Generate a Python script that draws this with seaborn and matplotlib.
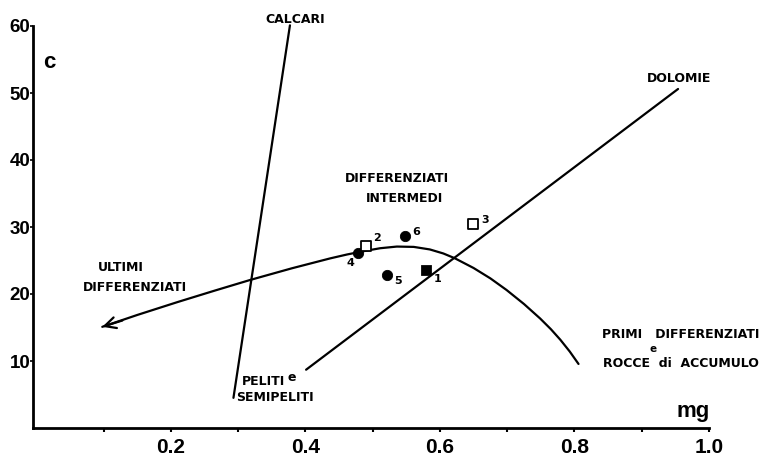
import matplotlib
matplotlib.use("Agg")
import matplotlib.pyplot as plt
import seaborn as sns
import pandas as pd

# ---- data ----
point_ids = ["1", "2", "3", "4", "5", "6"]
point_mg = [0.580, 0.490, 0.649, 0.478, 0.522, 0.548]
point_c = [23.6, 27.2, 30.4, 26.1, 22.8, 28.7]
point_kind = ["filled_square", "open_square", "open_square", "circle", "circle", "circle"]

curve_mg = [0.098, 0.150, 0.210, 0.265, 0.318, 0.380, 0.437, 0.462, 0.486, 0.511,
            0.536, 0.561, 0.585, 0.605, 0.622, 0.650, 0.675, 0.699, 0.725, 0.749,
            0.765, 0.779, 0.793, 0.806]
curve_c = [15.1, 16.87, 18.8, 20.5, 22.1, 23.84, 25.32, 25.90, 26.38, 26.83,
           27.08, 27.03, 26.65, 26.05, 25.34, 23.88, 22.33, 20.6, 18.5, 16.34,
           14.74, 13.17, 11.41, 9.56]

calcari_mg = [0.293, 0.377]
calcari_c = [4.5, 60.1]
dolomie_mg = [0.401, 0.954]
dolomie_c = [8.7, 50.6]

x_major = [0.2, 0.4, 0.6, 0.8, 1.0]
x_major_labels = ["0.2", "0.4", "0.6", "0.8", "1.0"]
x_minor = [0.1, 0.3, 0.5, 0.7, 0.9]
y_ticks = [10, 20, 30, 40, 50, 60]

sns.set_theme(style="ticks")
plt.rcParams["font.family"] = ["DejaVu Sans"]
plt.rcParams["text.color"] = "black"

fig = plt.figure(figsize=(7.72, 4.59), dpi=100)
ax = fig.add_axes([33 / 772, 1 - 428 / 459, (709 - 33) / 772, (428 - 26) / 459])

lw = 1.6
curve_df = pd.DataFrame({"mg": curve_mg, "c": curve_c})
sns.lineplot(data=curve_df, x="mg", y="c", sort=False, estimator=None,
             color="black", lw=lw, ax=ax, solid_joinstyle="round")
lines_df = pd.DataFrame({
    "mg": calcari_mg + dolomie_mg,
    "c": calcari_c + dolomie_c,
    "line": ["CALCARI"] * 2 + ["DOLOMIE"] * 2,
})
sns.lineplot(data=lines_df, x="mg", y="c", units="line", estimator=None,
             color="black", lw=lw, ax=ax, clip_on=False)

# arrow head at the left end of the curve
ax.annotate("", xy=(curve_mg[0], curve_c[0]),
            xytext=(curve_mg[0] + 0.03, curve_c[0] + 0.95),
            arrowprops=dict(arrowstyle="->", lw=lw, color="black",
                            mutation_scale=20, shrinkA=0, shrinkB=0))

pts = pd.DataFrame({"id": point_ids, "mg": point_mg, "c": point_c, "kind": point_kind})
circ = pts[pts.kind == "circle"]
fsq = pts[pts.kind == "filled_square"]
osq = pts[pts.kind == "open_square"]
sns.scatterplot(data=circ, x="mg", y="c", marker="o", s=55, color="black",
                edgecolor="black", ax=ax, zorder=5)
sns.scatterplot(data=fsq, x="mg", y="c", marker="s", s=50, color="black",
                edgecolor="black", ax=ax, zorder=5)
sns.scatterplot(data=osq, x="mg", y="c", marker="s", s=45, facecolor="white",
                edgecolor="black", linewidth=1.3, ax=ax, zorder=5)

# point labels
offsets = {"1": (0.016, -1.3), "2": (0.016, 1.2), "3": (0.018, 0.7),
           "4": (-0.011, -1.4), "5": (0.016, -0.9), "6": (0.016, 0.6)}
for pid, x, y in zip(point_ids, point_mg, point_c):
    dx, dy = offsets[pid]
    ax.text(x + dx, y + dy, pid, fontsize=8, fontweight="bold",
            ha="center", va="center", zorder=6)

ax.set_xlim(-0.005, 1.0)
ax.set_ylim(0, 60)
ax.set_xticks(x_major)
ax.set_xticklabels(x_major_labels)
ax.set_xticks(x_minor, minor=True)
ax.set_yticks(y_ticks)
ax.set_yticklabels([str(v) for v in y_ticks])
ax.set_xlabel("")
ax.set_ylabel("")
for lab in ax.get_xticklabels():
    lab.set_fontfamily("Liberation Sans")
    lab.set_fontweight("bold")
    lab.set_fontsize(15)
for lab in ax.get_yticklabels():
    lab.set_fontfamily("Liberation Sans")
    lab.set_fontweight("bold")
    lab.set_fontsize(13.5)
ax.tick_params(axis="x", which="both", direction="out", length=3, width=1.5,
               pad=4, colors="black")
ax.tick_params(axis="y", which="both", direction="out", length=2, width=1.2,
               pad=0, colors="black")
sns.despine(ax=ax)
ax.spines["left"].set_linewidth(2.0)
ax.spines["bottom"].set_linewidth(2.0)
ax.spines["left"].set_color("black")
ax.spines["bottom"].set_color("black")

# axis names
ax.text(0.019, 54.6, "c", fontsize=16, fontweight="bold",
        fontfamily="Liberation Sans", ha="center", va="center")
ax.text(0.976, 2.4, "mg", fontsize=16, fontweight="bold",
        fontfamily="Liberation Sans", ha="center", va="center")

# annotations
tkw = dict(fontsize=9, fontweight="bold", ha="center", va="center", clip_on=False)
ax.text(0.385, 60.9, "CALCARI", **tkw)
ax.text(0.955, 52.2, "DOLOMIE", **tkw)
ax.text(0.536, 37.3, "DIFFERENZIATI", **tkw)
ax.text(0.548, 34.3, "INTERMEDI", **tkw)
ax.text(0.125, 23.9, "ULTIMI", **tkw)
ax.text(0.147, 21.0, "DIFFERENZIATI", **tkw)
ax.text(0.337, 7.0, "PELITI", **tkw)
ax.text(0.380, 7.5, "e", **tkw)
ax.text(0.355, 4.5, "SEMIPELITI", **tkw)
ax.text(0.958, 13.9, "PRIMI   DIFFERENZIATI", **tkw)
ax.text(0.917, 11.85, "e", fontsize=7.5, fontweight="bold", ha="center",
        va="center", clip_on=False)
ax.text(0.958, 9.6, "ROCCE  di  ACCUMULO", **tkw)

fig.savefig("out.png", dpi=100)
